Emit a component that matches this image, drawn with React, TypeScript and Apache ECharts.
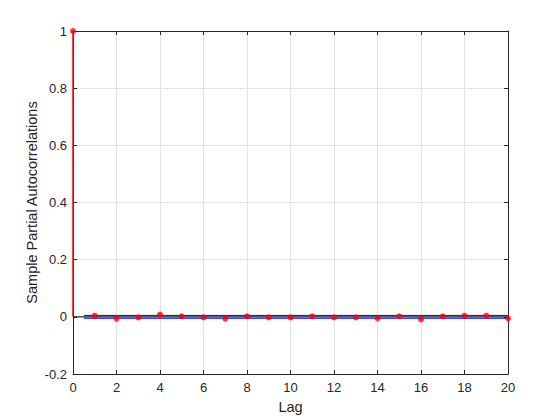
import React, { useEffect, useRef } from "react";
import * as echarts from "echarts";

const lags = [0, 1, 2, 3, 4, 5, 6, 7, 8, 9, 10, 11, 12, 13, 14, 15, 16, 17, 18, 19, 20];
const pacf = [1, 0.004, -0.006, -0.002, 0.008, 0.002, -0.002, -0.006, 0.002, -0.002, -0.002, 0.002, -0.002, -0.002, -0.005, 0.002, -0.009, 0.002, 0.004, 0.004, -0.005];
const bound = 0.005;
const boundStart = 0.5;
const numLags = 20;
const xTicks = { min: 0, max: 20, interval: 2 };
const yTicks = { min: -0.2, max: 1, interval: 0.2 };

const FONT = "Liberation Sans, Arial, sans-serif";
const AX = "#262626";
const GRID = "#e3e3e3";

export default function App() {
  const ref = useRef<HTMLDivElement>(null);
  useEffect(() => {
    if (!ref.current) return;
    const chart = echarts.init(ref.current, undefined, { renderer: "svg" });
    const pts = lags.map((l, i) => [l, pacf[i]]);
    const fmtY = (v: number) => String(Math.round(v * 10) / 10);
    const baseAxis = {
      axisLine: { show: true, onZero: false, lineStyle: { color: AX, width: 1 } },
      axisTick: { show: true, inside: true, length: 4, lineStyle: { color: AX } },
    };
    chart.setOption({
      animation: false,
      backgroundColor: "#ffffff",
      grid: { left: 73, right: 52, top: 31, bottom: 46, containLabel: false },
      xAxis: [
        {
          type: "value",
          ...xTicks,
          ...baseAxis,
          position: "bottom",
          axisLabel: { color: AX, fontFamily: FONT, fontSize: 13, margin: 7 },
          splitLine: { show: true, lineStyle: { color: GRID, width: 1 } },
          name: "Lag",
          nameLocation: "middle",
          nameGap: 25,
          nameMoveOverlap: false,
          nameTextStyle: { color: AX, fontFamily: FONT, fontSize: 14.5 },
        },
        {
          type: "value",
          ...xTicks,
          ...baseAxis,
          position: "top",
          axisLabel: { show: false },
          splitLine: { show: false },
        },
      ],
      yAxis: [
        {
          type: "value",
          ...yTicks,
          ...baseAxis,
          position: "left",
          axisLabel: { color: AX, fontFamily: FONT, fontSize: 13, margin: 6, formatter: fmtY },
          splitLine: { show: true, lineStyle: { color: GRID, width: 1 } },
          name: "Sample Partial Autocorrelations",
          nameLocation: "middle",
          nameGap: 34,
          nameMoveOverlap: false,
          nameRotate: 90,
          nameTextStyle: { color: AX, fontFamily: FONT, fontSize: 14.5 },
        },
        {
          type: "value",
          ...yTicks,
          ...baseAxis,
          position: "right",
          axisLabel: { show: false },
          splitLine: { show: false },
        },
      ],
      series: [
        {
          type: "line",
          data: [[0, 0], [numLags, 0]],
          symbol: "none",
          lineStyle: { color: "#000000", width: 1 },
          z: 3,
        },
        {
          type: "line",
          data: [[boundStart, bound], [numLags, bound]],
          symbol: "none",
          lineStyle: { color: "#0000ff", width: 1 },
          z: 4,
        },
        {
          type: "line",
          data: [[boundStart, -bound], [numLags, -bound]],
          symbol: "none",
          lineStyle: { color: "#0000ff", width: 1 },
          z: 4,
        },
        {
          type: "custom",
          data: pts,
          z: 5,
          clip: false,
          renderItem: (params: any, api: any) => {
            const x = api.value(0);
            const y = api.value(1);
            const p0 = api.coord([x, 0]);
            const p1 = api.coord([x, y]);
            return {
              type: "line",
              shape: { x1: p0[0], y1: p0[1], x2: p1[0], y2: p1[1] },
              style: { stroke: "#ff0000", lineWidth: 1.5 },
            };
          },
        },
        {
          type: "scatter",
          data: pts,
          symbol: "circle",
          symbolSize: 6,
          itemStyle: { color: "#ff0000" },
          z: 6,
          clip: false,
        },
      ],
    });
    return () => chart.dispose();
  }, []);
  return (
    <div
      ref={ref}
      style={{ position: "absolute", left: 0, top: 0, width: 560, height: 420 }}
    />
  );
}
